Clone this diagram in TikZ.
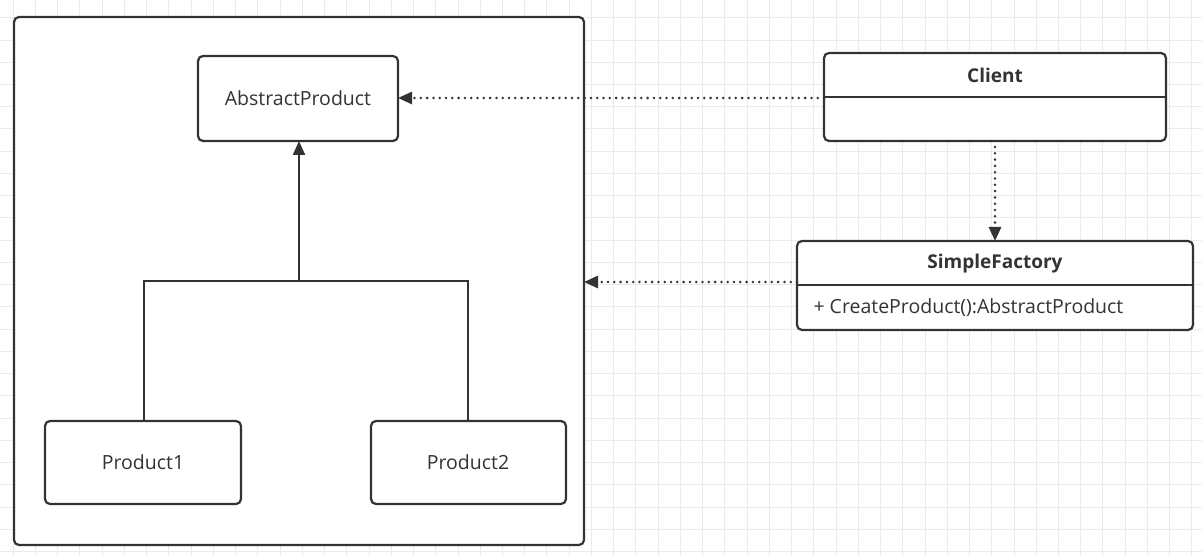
\documentclass[tikz,border=0pt]{standalone}
\usepackage{fontspec}
\setmainfont{Open Sans}
\usetikzlibrary{arrows.meta}
\definecolor{ink}{HTML}{333333}
\definecolor{gridc}{HTML}{EBEBEB}
\tikzset{
  boxstyle/.style={draw=ink, line width=2.2pt, rounded corners=5pt, fill=white},
  conn/.style={draw=ink, line width=2.2pt},
  dotconn/.style={draw=ink, line width=2.8pt, dash pattern=on 0pt off 6.3pt, line cap=round, -{Triangle[length=14pt,width=12pt]}},
  inh/.style={draw=ink, line width=2.2pt, -{Triangle[length=14pt,width=12pt]}},
  lbl/.style={font=\fontsize{19.5}{22}\selectfont, text=ink},
  blbl/.style={font=\fontsize{19}{22}\selectfont\bfseries, text=ink},
}
\begin{document}
\begin{tikzpicture}[x=1pt,y=-1pt]
\useasboundingbox (0,0) rectangle (1202,556);
\fill[white] (0,0) rectangle (1202,556);
% grid
\foreach \i in {0,...,54} {\draw[gridc, line width=1pt] ({13.2+22.24*\i},0) -- ({13.2+22.24*\i},556);}
\foreach \j in {0,...,24} {\draw[gridc, line width=1pt] (0,{17.8+22.24*\j}) -- (1202,{17.8+22.24*\j});}
% container
\draw[boxstyle] (14,17) rectangle (584,545);
\coordinate (contR) at (584,282);
% nodes
\draw[boxstyle] (198,56) rectangle (398,141);
\node[lbl] (ap) at (298,98.5) {AbstractProduct};
\coordinate (apR) at (398,98);
\coordinate (apB) at (299,141);
\draw[boxstyle] (45,421) rectangle (241,504);
\node[lbl] (p1) at (143,462.5) {Product1};
\coordinate (p1T) at (144,421);
\draw[boxstyle] (371,421) rectangle (566,504);
\node[lbl] (p2) at (468,462.5) {Product2};
\coordinate (p2T) at (468,421);
% inheritance
\coordinate (jl) at (144,281);
\coordinate (jr) at (468,281);
\coordinate (jm) at (299,281);
\draw[conn] (p1T) -- (jl) -- (jr) -- (p2T);
\draw[inh] (jm) -- (apB);
% Client
\draw[boxstyle] (824,53) rectangle (1166,141);
\draw[conn] (824,97) -- (1166,97);
\node[blbl] (client) at (995,75) {Client};
\coordinate (clL) at (824,98);
\coordinate (clB) at (995,147);
% SimpleFactory
\draw[boxstyle] (797,241) rectangle (1193,330);
\draw[conn] (797,285) -- (1193,285);
\node[blbl] (sf) at (995,264) {SimpleFactory};
\node[lbl, anchor=west] (sfm) at (810,308) {+ CreateProduct():AbstractProduct};
\coordinate (sfT) at (995,241);
\coordinate (sfL) at (797,282);
% dependencies
\draw[dotconn] (clL) -- (apR);
\draw[dotconn] (clB) -- (sfT);
\draw[dotconn] (sfL) -- (contR);
\end{tikzpicture}
\end{document}
